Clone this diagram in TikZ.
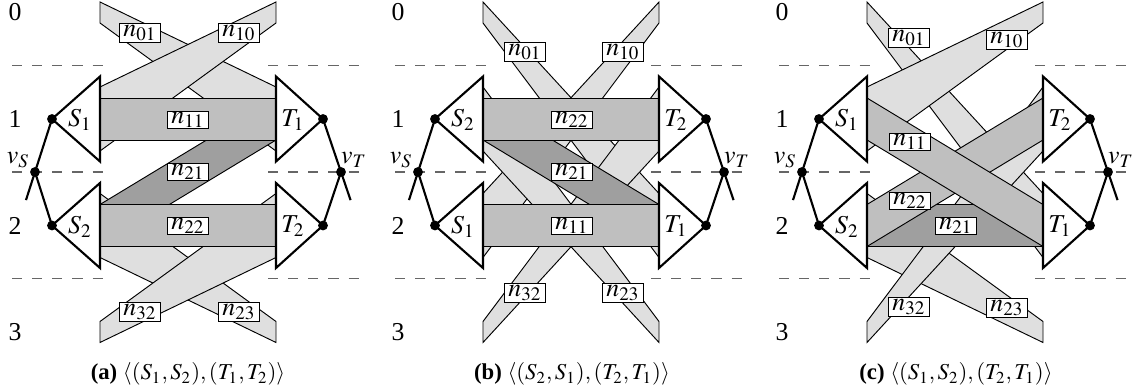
\documentclass[tikz,border=0pt]{standalone}
\usepackage{mathptmx}
\usepackage{fontspec}
\setmainfont{Liberation Serif}
\usepackage{tikz}
\usetikzlibrary{calc}

% one band between a left end and a right end: centre and half height of each end
\newcommand{\band}[5]{\filldraw[#1] (0,{#2-#3}) -- (176,{#4-#5}) -- (176,{#4+#5}) -- (0,{#2+#3}) -- cycle;}

% levels, sources, sinks and the two terminals of one panel
\newcommand{\panelframe}[5]{%
  \foreach \y in {65.5,172,278.5} {
    \draw[levelline] (-88,\y) -- (8,\y);
    \draw[levelline] (168,\y) -- (264,\y);
  }
  \foreach \l/\y in {0/12.5,1/119,2/225.5,3/332}
    \node[levelnum] at (-85,\y) {\l};
  \coordinate (#1-sa) at (-48,119);
  \coordinate (#1-sb) at (-48,225.5);
  \coordinate (#1-ta) at (223,119);
  \coordinate (#1-tb) at (223,225.5);
  \draw[tri] (0,76.5) -- (0,161.5) -- (#1-sa) -- cycle;
  \draw[tri] (0,183) -- (0,268) -- (#1-sb) -- cycle;
  \draw[tri] (176,76.5) -- (176,161.5) -- (#1-ta) -- cycle;
  \draw[tri] (176,183) -- (176,268) -- (#1-tb) -- cycle;
  \node (#1-slab1) at (-20,120) {$#2$};
  \node (#1-slab2) at (-20,226.5) {$#3$};
  \node (#1-tlab1) at (193,120) {$#4$};
  \node (#1-tlab2) at (193,226.5) {$#5$};
  \node[dot] (#1-vs) at (-65,172) {};
  \node[dot] (#1-vt) at (241,172) {};
  \node[dot] (#1-sdot1) at (#1-sa) {};
  \node[dot] (#1-sdot2) at (#1-sb) {};
  \node[dot] (#1-tdot1) at (#1-ta) {};
  \node[dot] (#1-tdot2) at (#1-tb) {};
  \coordinate (#1-vsend) at ($(#1-sa)!1.53!(#1-vs.center)$);
  \coordinate (#1-vtend) at ($(#1-ta)!1.53!(#1-vt.center)$);
  \draw[link] (#1-sdot1.center) -- (#1-vsend);
  \draw[link] (#1-vs.center) -- (#1-sdot2.center);
  \draw[link] (#1-tdot1.center) -- (#1-vtend);
  \draw[link] (#1-vt.center) -- (#1-tdot2.center);
  \node (#1-vslab) at (-82,160) {$v_S$};
  \node (#1-vtlab) at (254,160) {$v_T$};
}

\begin{document}
\begin{tikzpicture}[x=0.015cm, y=-0.015cm,
    font=\fontsize{11}{13}\selectfont,
    levelline/.style={draw=black!60, dash pattern=on 4.3pt off 4.3pt, line width=0.6pt},
    levelnum/.style={inner sep=0pt},
    tri/.style={draw=black, fill=white, line width=0.9pt, line join=miter},
    link/.style={line width=0.9pt},
    dot/.style={circle, fill=black, inner sep=0pt, minimum size=4.2pt},
    light/.style={draw=black, fill=gray!25, line width=0.4pt},
    mid/.style={draw=black, fill=gray!50, line width=0.4pt},
    dark/.style={draw=black, fill=gray!75, line width=0.4pt},
    flow/.style={draw=black, fill=white, line width=0.4pt, inner xsep=1.8pt, inner ysep=0.6pt},
    caption/.style={font=\fontsize{9.7}{11.5}\selectfont}]
  \useasboundingbox (0,0) rectangle (1137,387);

  % (a)
  \begin{scope}[shift={(100,0)}]
    \band{light}{12.5}{10.5}{119}{32}
    \band{light}{119}{32}{12.5}{10.5}
    \band{light}{225.5}{32}{332}{10.5}
    \band{light}{332}{10.5}{225.5}{32}
    \band{dark}{225.5}{21}{119}{21}
    \band{mid}{119}{21}{119}{21}
    \band{mid}{225.5}{21}{225.5}{21}
    \node[flow] (a-n01) at (40,33) {$n_{01}$};
    \node[flow] (a-n10) at (139,33) {$n_{10}$};
    \node[flow] (a-n11) at (88,120) {$n_{11}$};
    \node[flow] (a-n21) at (88,172) {$n_{21}$};
    \node[flow] (a-n22) at (88,226) {$n_{22}$};
    \node[flow] (a-n32) at (40,312) {$n_{32}$};
    \node[flow] (a-n23) at (139,312) {$n_{23}$};
    \panelframe{a}{S_1}{S_2}{T_1}{T_2}
    \node[caption] (a-cap) at (88,374) {\textbf{(a)} $\langle(S_1,S_2),(T_1,T_2)\rangle$};
  \end{scope}

  % (b)
  \begin{scope}[shift={(483,0)}]
    \band{light}{12.5}{10.5}{225.5}{32}
    \band{light}{225.5}{32}{12.5}{10.5}
    \band{light}{119}{32}{332}{10.5}
    \band{light}{332}{10.5}{119}{32}
    \band{dark}{119}{21}{225.5}{21}
    \band{mid}{119}{21}{119}{21}
    \band{mid}{225.5}{21}{225.5}{21}
    \node[flow] (b-n01) at (42,52) {$n_{01}$};
    \node[flow] (b-n10) at (140,52) {$n_{10}$};
    \node[flow] (b-n22) at (89,120) {$n_{22}$};
    \node[flow] (b-n21) at (89,172) {$n_{21}$};
    \node[flow] (b-n11) at (89,226) {$n_{11}$};
    \node[flow] (b-n32) at (42,293) {$n_{32}$};
    \node[flow] (b-n23) at (140,293) {$n_{23}$};
    \panelframe{b}{S_2}{S_1}{T_2}{T_1}
    \node[caption] (b-cap) at (89,374) {\textbf{(b)} $\langle(S_2,S_1),(T_2,T_1)\rangle$};
  \end{scope}

  % (c)
  \begin{scope}[shift={(867,0)}]
    \band{light}{12.5}{10.5}{225.5}{32}
    \band{light}{119}{32}{12.5}{10.5}
    \band{light}{225.5}{32}{332}{10.5}
    \band{light}{332}{10.5}{119}{32}
    \band{dark}{225.5}{21}{225.5}{21}
    \band{mid}{225.5}{21}{119}{21}
    \band{mid}{119}{21}{225.5}{21}
    \node[flow] (c-n01) at (42,38) {$n_{01}$};
    \node[flow] (c-n10) at (140,40) {$n_{10}$};
    \node[flow] (c-n11) at (43,142) {$n_{11}$};
    \node[flow] (c-n22) at (43,201) {$n_{22}$};
    \node[flow] (c-n21) at (89,226) {$n_{21}$};
    \node[flow] (c-n32) at (42,307) {$n_{32}$};
    \node[flow] (c-n23) at (140,308) {$n_{23}$};
    \panelframe{c}{S_1}{S_2}{T_2}{T_1}
    \node[caption] (c-cap) at (89,374) {\textbf{(c)} $\langle(S_1,S_2),(T_2,T_1)\rangle$};
  \end{scope}
\end{tikzpicture}
\end{document}
